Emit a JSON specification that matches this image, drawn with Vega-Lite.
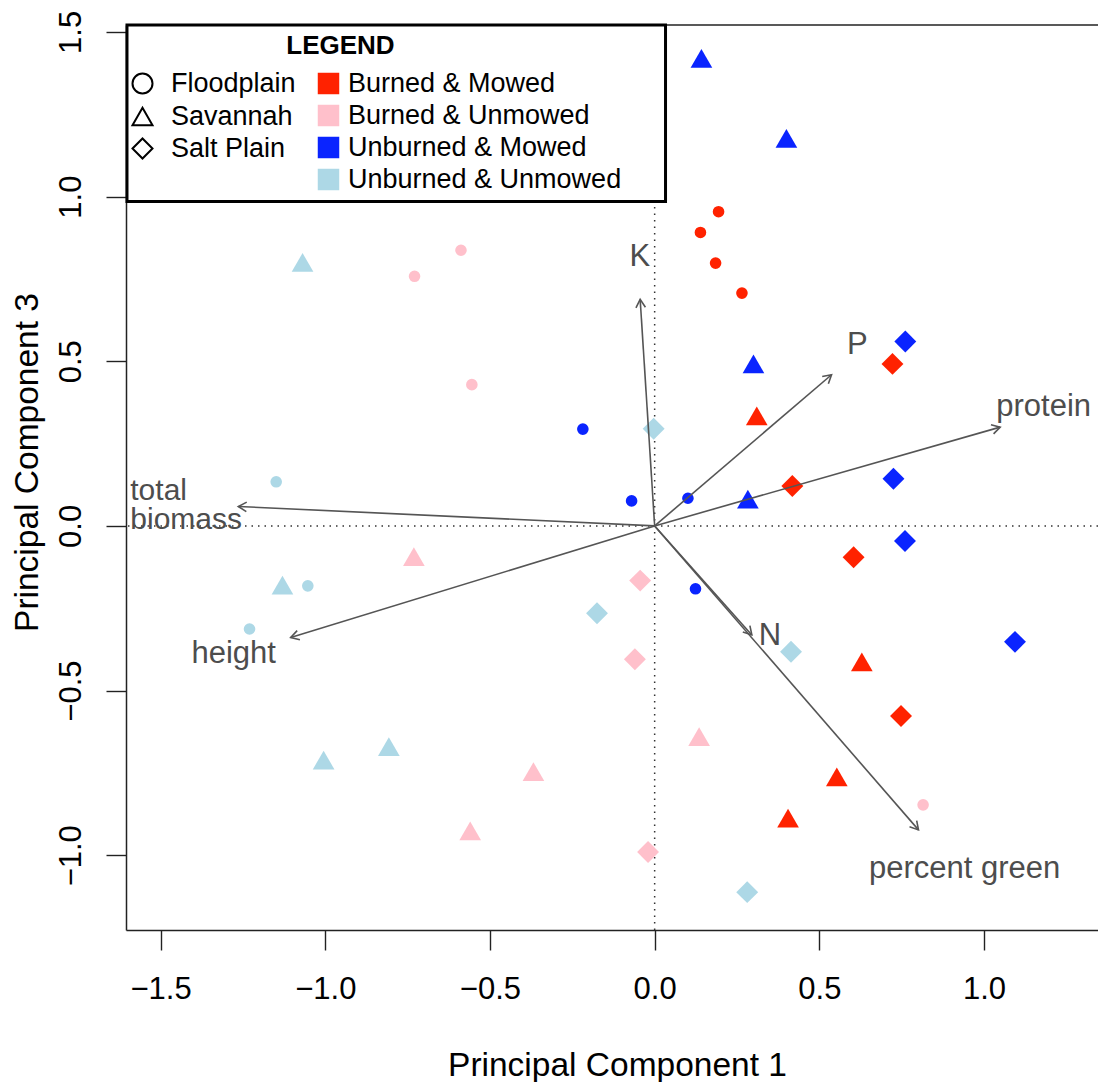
{
  "$schema": "https://vega.github.io/schema/vega-lite/v6.json",
  "width": 972,
  "height": 905,
  "autosize": {"type": "none"},
  "padding": {"left": 126, "top": 25, "right": 0, "bottom": 152},
  "background": "white",
  "datasets": {
    "pts": [
      {"pc1": 0.194, "pc3": 0.954, "site": "Floodplain", "trt": "Burned & Mowed"},
      {"pc1": 0.139, "pc3": 0.891, "site": "Floodplain", "trt": "Burned & Mowed"},
      {"pc1": 0.185, "pc3": 0.798, "site": "Floodplain", "trt": "Burned & Mowed"},
      {"pc1": 0.265, "pc3": 0.707, "site": "Floodplain", "trt": "Burned & Mowed"},
      {"pc1": -0.588, "pc3": 0.837, "site": "Floodplain", "trt": "Burned & Unmowed"},
      {"pc1": -0.729, "pc3": 0.758, "site": "Floodplain", "trt": "Burned & Unmowed"},
      {"pc1": -0.555, "pc3": 0.429, "site": "Floodplain", "trt": "Burned & Unmowed"},
      {"pc1": 0.815, "pc3": -0.847, "site": "Floodplain", "trt": "Burned & Unmowed"},
      {"pc1": -0.218, "pc3": 0.294, "site": "Floodplain", "trt": "Unburned & Mowed"},
      {"pc1": -0.070, "pc3": 0.076, "site": "Floodplain", "trt": "Unburned & Mowed"},
      {"pc1": 0.101, "pc3": 0.084, "site": "Floodplain", "trt": "Unburned & Mowed"},
      {"pc1": 0.124, "pc3": -0.191, "site": "Floodplain", "trt": "Unburned & Mowed"},
      {"pc1": -1.149, "pc3": 0.134, "site": "Floodplain", "trt": "Unburned & Unmowed"},
      {"pc1": -1.053, "pc3": -0.182, "site": "Floodplain", "trt": "Unburned & Unmowed"},
      {"pc1": -1.230, "pc3": -0.313, "site": "Floodplain", "trt": "Unburned & Unmowed"},
      {"pc1": 0.310, "pc3": 0.334, "site": "Savannah", "trt": "Burned & Mowed"},
      {"pc1": 0.629, "pc3": -0.413, "site": "Savannah", "trt": "Burned & Mowed"},
      {"pc1": 0.553, "pc3": -0.762, "site": "Savannah", "trt": "Burned & Mowed"},
      {"pc1": 0.405, "pc3": -0.887, "site": "Savannah", "trt": "Burned & Mowed"},
      {"pc1": 0.142, "pc3": 1.420, "site": "Savannah", "trt": "Unburned & Mowed"},
      {"pc1": 0.400, "pc3": 1.177, "site": "Savannah", "trt": "Unburned & Mowed"},
      {"pc1": 0.300, "pc3": 0.492, "site": "Savannah", "trt": "Unburned & Mowed"},
      {"pc1": 0.283, "pc3": 0.081, "site": "Savannah", "trt": "Unburned & Mowed"},
      {"pc1": -0.731, "pc3": -0.093, "site": "Savannah", "trt": "Burned & Unmowed"},
      {"pc1": -0.368, "pc3": -0.746, "site": "Savannah", "trt": "Burned & Unmowed"},
      {"pc1": -0.560, "pc3": -0.926, "site": "Savannah", "trt": "Burned & Unmowed"},
      {"pc1": 0.135, "pc3": -0.640, "site": "Savannah", "trt": "Burned & Unmowed"},
      {"pc1": -1.069, "pc3": 0.800, "site": "Savannah", "trt": "Unburned & Unmowed"},
      {"pc1": -1.130, "pc3": -0.180, "site": "Savannah", "trt": "Unburned & Unmowed"},
      {"pc1": -1.005, "pc3": -0.711, "site": "Savannah", "trt": "Unburned & Unmowed"},
      {"pc1": -0.807, "pc3": -0.670, "site": "Savannah", "trt": "Unburned & Unmowed"},
      {"pc1": 0.722, "pc3": 0.492, "site": "Salt Plain", "trt": "Burned & Mowed"},
      {"pc1": 0.418, "pc3": 0.121, "site": "Salt Plain", "trt": "Burned & Mowed"},
      {"pc1": 0.604, "pc3": -0.095, "site": "Salt Plain", "trt": "Burned & Mowed"},
      {"pc1": 0.748, "pc3": -0.577, "site": "Salt Plain", "trt": "Burned & Mowed"},
      {"pc1": 0.761, "pc3": 0.560, "site": "Salt Plain", "trt": "Unburned & Mowed"},
      {"pc1": 0.725, "pc3": 0.143, "site": "Salt Plain", "trt": "Unburned & Mowed"},
      {"pc1": 0.760, "pc3": -0.046, "site": "Salt Plain", "trt": "Unburned & Mowed"},
      {"pc1": 1.094, "pc3": -0.352, "site": "Salt Plain", "trt": "Unburned & Mowed"},
      {"pc1": -0.003, "pc3": 0.295, "site": "Salt Plain", "trt": "Unburned & Unmowed"},
      {"pc1": -0.175, "pc3": -0.265, "site": "Salt Plain", "trt": "Unburned & Unmowed"},
      {"pc1": 0.414, "pc3": -0.382, "site": "Salt Plain", "trt": "Unburned & Unmowed"},
      {"pc1": 0.281, "pc3": -1.112, "site": "Salt Plain", "trt": "Unburned & Unmowed"},
      {"pc1": -0.044, "pc3": -0.166, "site": "Salt Plain", "trt": "Burned & Unmowed"},
      {"pc1": -0.060, "pc3": -0.405, "site": "Salt Plain", "trt": "Burned & Unmowed"},
      {"pc1": -0.020, "pc3": -0.990, "site": "Salt Plain", "trt": "Burned & Unmowed"}
    ],
    "arrows": [
      {"label": "K", "ox": 0, "oy": 0, "tx": -0.044, "ty": 0.688, "lx": -0.045, "ly": 0.818},
      {"label": "P", "ox": 0, "oy": 0, "tx": 0.537, "ty": 0.459, "lx": 0.615, "ly": 0.548},
      {"label": "protein", "ox": 0, "oy": 0, "tx": 1.049, "ty": 0.300, "lx": 1.181, "ly": 0.360},
      {"label": "total\nbiomass", "ox": 0, "oy": 0, "tx": -1.264, "ty": 0.059, "lx": -1.592, "ly": 0.106},
      {"label": "height", "ox": 0, "oy": 0, "tx": -1.105, "ty": -0.339, "lx": -1.278, "ly": -0.388},
      {"label": "N", "ox": 0, "oy": 0, "tx": 0.295, "ty": -0.331, "lx": 0.350, "ly": -0.333},
      {"label": "percent green", "ox": 0, "oy": 0, "tx": 0.801, "ty": -0.923, "lx": 0.941, "ly": -1.041}
    ]
  },
  "layer": [
    {
      "data": {"values": [{}]},
      "mark": {"type": "rule", "strokeDash": [1.5, 5], "color": "#333333", "strokeWidth": 1.5},
      "encoding": {
        "x": {"datum": 0, "type": "quantitative", "title": "Principal Component 1", "scale": {"domain": [-1.605, 1.346], "nice": false, "zero": false}}
      }
    },
    {
      "data": {"values": [{}]},
      "mark": {"type": "rule", "strokeDash": [1.5, 5], "color": "#333333", "strokeWidth": 1.5},
      "encoding": {
        "y": {"datum": 0, "type": "quantitative", "title": "Principal Component 3", "scale": {"domain": [-1.227, 1.521], "nice": false, "zero": false}}
      }
    },
    {
      "data": {"values": [{}]},
      "mark": {"type": "rule", "color": "#222222", "strokeWidth": 1.5},
      "encoding": {
        "y": {"datum": 1.521, "type": "quantitative", "title": "Principal Component 3"}
      }
    },
    {
      "data": {"values": [{}]},
      "mark": {"type": "rect", "fill": "white", "stroke": "black", "strokeWidth": 3},
      "encoding": {
        "x": {"datum": -1.602, "type": "quantitative", "title": "Principal Component 1"},
        "x2": {"datum": 0.033},
        "y": {"datum": 1.521, "type": "quantitative", "title": "Principal Component 3"},
        "y2": {"datum": 0.985}
      }
    },
    {
      "data": {"values": [{}]},
      "mark": {"type": "text", "text": "LEGEND", "fontSize": 26, "fontWeight": "bold", "font": "Liberation Sans", "color": "black", "align": "center", "baseline": "middle"},
      "encoding": {
        "x": {"datum": -0.954, "type": "quantitative", "title": "Principal Component 1"},
        "y": {"datum": 1.458, "type": "quantitative", "title": "Principal Component 3"}
      }
    },
    {
      "data": {"name": "pts"},
      "transform": [{"filter": "datum.site == 'Floodplain'"}],
      "mark": {"type": "point", "filled": true, "opacity": 1, "strokeWidth": 0, "size": 135},
      "encoding": {
        "x": {
          "field": "pc1", "type": "quantitative", "title": "Principal Component 1",
          "scale": {"domain": [-1.605, 1.346], "nice": false, "zero": false},
          "axis": {
            "values": [-1.5, -1, -0.5, 0, 0.5, 1], "format": ".1f",
            "domain": true, "domainColor": "#222222", "domainWidth": 1.5,
            "labelBaseline": "alphabetic", "labelPadding": 48,
            "titleBaseline": "alphabetic", "titleX": 491, "titleY": 145, "titleAlign": "center"
          }
        },
        "y": {
          "field": "pc3", "type": "quantitative", "title": "Principal Component 3",
          "scale": {"domain": [-1.227, 1.521], "nice": false, "zero": false},
          "axis": {
            "values": [-1, -0.5, 0, 0.5, 1, 1.5], "format": ".1f",
            "domain": true, "domainColor": "#222222", "domainWidth": 1.5,
            "labelAngle": -90, "labelAlign": "center", "labelBaseline": "alphabetic", "labelPadding": 26,
            "titleAngle": -90, "titleBaseline": "alphabetic", "titleAlign": "center", "titleX": -89, "titleY": 437
          }
        },
        "shape": {
          "field": "site", "type": "nominal",
          "scale": {"domain": ["Floodplain", "Savannah", "Salt Plain"], "range": ["circle", "triangle-up", "diamond"]},
          "legend": {
            "title": null, "orient": "none", "direction": "vertical", "legendX": 3, "legendY": 45,
            "padding": 0, "symbolSize": 400, "rowPadding": 4, "labelOffset": 15, "labelLimit": 0,
            "labelFontSize": 27, "labelFont": "Liberation Sans", "labelColor": "black",
            "symbolFillColor": "transparent", "symbolStrokeColor": "black", "symbolStrokeWidth": 2
          }
        },
        "color": {
          "field": "trt", "type": "nominal",
          "scale": {"domain": ["Burned & Mowed", "Burned & Unmowed", "Unburned & Mowed", "Unburned & Unmowed"], "range": ["#ff2200", "#ffc0cb", "#0a24ff", "#add8e6"]},
          "legend": {
            "title": null, "orient": "none", "direction": "vertical", "legendX": 189, "legendY": 45,
            "padding": 0, "symbolType": "square", "symbolSize": 462, "rowPadding": 4, "labelOffset": 6, "labelLimit": 0,
            "labelFontSize": 27, "labelFont": "Liberation Sans", "labelColor": "black",
            "symbolStrokeWidth": 0, "symbolOpacity": 1
          }
        }
      }
    },
    {
      "data": {"name": "pts"},
      "transform": [{"filter": "datum.site == 'Savannah'"}],
      "mark": {"type": "point", "filled": true, "opacity": 1, "strokeWidth": 0, "size": 470},
      "encoding": {
        "x": {"field": "pc1", "type": "quantitative", "title": "Principal Component 1"},
        "y": {"field": "pc3", "type": "quantitative", "title": "Principal Component 3"},
        "shape": {
          "field": "site", "type": "nominal",
          "scale": {"domain": ["Floodplain", "Savannah", "Salt Plain"], "range": ["circle", "triangle-up", "diamond"]},
          "legend": {
            "title": null, "orient": "none", "direction": "vertical", "legendX": 3, "legendY": 45,
            "padding": 0, "symbolSize": 400, "rowPadding": 4, "labelOffset": 15, "labelLimit": 0,
            "labelFontSize": 27, "labelFont": "Liberation Sans", "labelColor": "black",
            "symbolFillColor": "transparent", "symbolStrokeColor": "black", "symbolStrokeWidth": 2
          }
        },
        "color": {
          "field": "trt", "type": "nominal",
          "scale": {"domain": ["Burned & Mowed", "Burned & Unmowed", "Unburned & Mowed", "Unburned & Unmowed"], "range": ["#ff2200", "#ffc0cb", "#0a24ff", "#add8e6"]},
          "legend": {
            "title": null, "orient": "none", "direction": "vertical", "legendX": 189, "legendY": 45,
            "padding": 0, "symbolType": "square", "symbolSize": 462, "rowPadding": 4, "labelOffset": 6, "labelLimit": 0,
            "labelFontSize": 27, "labelFont": "Liberation Sans", "labelColor": "black",
            "symbolStrokeWidth": 0, "symbolOpacity": 1
          }
        }
      }
    },
    {
      "data": {"name": "pts"},
      "transform": [{"filter": "datum.site == 'Salt Plain'"}],
      "mark": {"type": "point", "filled": true, "opacity": 1, "strokeWidth": 0, "size": 480},
      "encoding": {
        "x": {"field": "pc1", "type": "quantitative", "title": "Principal Component 1"},
        "y": {"field": "pc3", "type": "quantitative", "title": "Principal Component 3"},
        "shape": {
          "field": "site", "type": "nominal",
          "scale": {"domain": ["Floodplain", "Savannah", "Salt Plain"], "range": ["circle", "triangle-up", "diamond"]},
          "legend": {
            "title": null, "orient": "none", "direction": "vertical", "legendX": 3, "legendY": 45,
            "padding": 0, "symbolSize": 400, "rowPadding": 4, "labelOffset": 15, "labelLimit": 0,
            "labelFontSize": 27, "labelFont": "Liberation Sans", "labelColor": "black",
            "symbolFillColor": "transparent", "symbolStrokeColor": "black", "symbolStrokeWidth": 2
          }
        },
        "color": {
          "field": "trt", "type": "nominal",
          "scale": {"domain": ["Burned & Mowed", "Burned & Unmowed", "Unburned & Mowed", "Unburned & Unmowed"], "range": ["#ff2200", "#ffc0cb", "#0a24ff", "#add8e6"]},
          "legend": {
            "title": null, "orient": "none", "direction": "vertical", "legendX": 189, "legendY": 45,
            "padding": 0, "symbolType": "square", "symbolSize": 462, "rowPadding": 4, "labelOffset": 6, "labelLimit": 0,
            "labelFontSize": 27, "labelFont": "Liberation Sans", "labelColor": "black",
            "symbolStrokeWidth": 0, "symbolOpacity": 1
          }
        }
      }
    },
    {
      "data": {"name": "arrows"},
      "mark": {"type": "rule", "color": "#555555", "strokeWidth": 1.6},
      "encoding": {
        "x": {"field": "ox", "type": "quantitative", "title": "Principal Component 1"},
        "y": {"field": "oy", "type": "quantitative", "title": "Principal Component 3"},
        "x2": {"field": "tx"},
        "y2": {"field": "ty"}
      }
    },
    {
      "data": {"name": "arrows"},
      "transform": [{"calculate": "(360 - atan2(datum.ty, datum.tx) * 180 / PI) % 360", "as": "ang"}],
      "mark": {"type": "point", "shape": "M-1,-0.577L0,0L-1,0.577", "filled": false, "stroke": "#555555", "strokeWidth": 1.6, "size": 270, "opacity": 1},
      "encoding": {
        "x": {"field": "tx", "type": "quantitative", "title": "Principal Component 1"},
        "y": {"field": "ty", "type": "quantitative", "title": "Principal Component 3"},
        "angle": {"field": "ang", "type": "quantitative", "scale": null}
      }
    },
    {
      "data": {"name": "arrows"},
      "transform": [{"filter": "datum.label != 'total\\nbiomass'"}],
      "mark": {"type": "text", "fontSize": 31, "font": "Liberation Sans", "color": "#4d4d4d", "align": "center", "baseline": "middle"},
      "encoding": {
        "x": {"field": "lx", "type": "quantitative", "title": "Principal Component 1"},
        "y": {"field": "ly", "type": "quantitative", "title": "Principal Component 3"},
        "text": {"field": "label", "type": "nominal"}
      }
    },
    {
      "data": {"name": "arrows"},
      "transform": [{"filter": "datum.label == 'total\\nbiomass'"}],
      "mark": {"type": "text", "fontSize": 30, "font": "Liberation Sans", "color": "#4d4d4d", "align": "left", "baseline": "middle", "lineBreak": "\n", "lineHeight": 29},
      "encoding": {
        "x": {"field": "lx", "type": "quantitative", "title": "Principal Component 1"},
        "y": {"field": "ly", "type": "quantitative", "title": "Principal Component 3"},
        "text": {"field": "label", "type": "nominal"}
      }
    }
  ],
  "config": {
    "font": "Liberation Sans",
    "view": {"stroke": null},
    "axis": {
      "grid": false, "domain": true, "domainColor": "#222222", "domainWidth": 1.5,
      "tickColor": "#222222", "tickSize": 20, "tickWidth": 1.4,
      "labelFontSize": 31, "labelColor": "black", "labelFont": "Liberation Sans",
      "titleFontSize": 33.5, "titleFontWeight": "normal", "titleColor": "black", "titleFont": "Liberation Sans"
    }
  }
}
